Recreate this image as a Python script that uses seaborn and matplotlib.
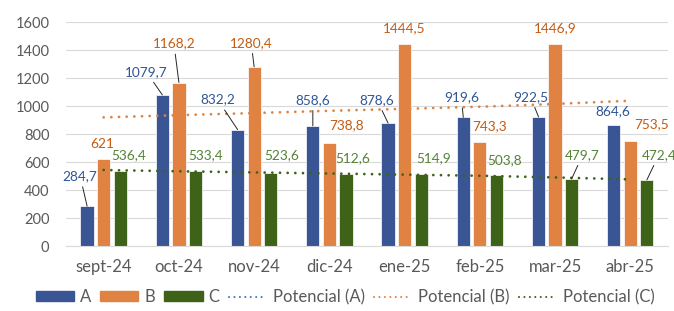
import pandas as pd
import numpy as np
import matplotlib
matplotlib.use('Agg')
import matplotlib.pyplot as plt
import seaborn as sns
from matplotlib.patches import Patch
from matplotlib.lines import Line2D

meses = ['sept-24', 'oct-24', 'nov-24', 'dic-24', 'ene-25', 'feb-25', 'mar-25', 'abr-25']
serie_a = [284.7, 1079.7, 832.2, 858.6, 878.6, 919.6, 922.5, 864.6]
serie_b = [621, 1168.2, 1280.4, 738.8, 1444.5, 743.3, 1446.9, 753.5]
serie_c = [536.4, 533.4, 523.6, 512.6, 514.9, 503.8, 479.7, 472.4]
# lineas de tendencia
potencial_b = [919, 935, 950, 966, 980, 995, 1015, 1038]
potencial_c = [543, 534, 526, 518, 510, 502, 490, 476]
series = ['A', 'B', 'C']

colores = ['#3A5593', '#E08242', '#3F6219']
colores_texto = ['#2F5597', '#C55A11', '#548235']

datos = pd.DataFrame({
    'mes': meses * 3,
    'valor': serie_a + serie_b + serie_c,
    'serie': ['A'] * 8 + ['B'] * 8 + ['C'] * 8,
})

sns.set_style('white')
plt.rcParams['font.family'] = ['Lato', 'DejaVu Sans']

fig = plt.figure(figsize=(6.74, 3.11), dpi=100)
ax = fig.add_axes([0.098, 0.209, 0.893, 0.72])

sns.barplot(data=datos, x='mes', y='valor', hue='serie', palette=colores,
            width=0.66, gap=0.2, saturation=1, edgecolor='white', linewidth=0.5,
            legend=False, ax=ax, zorder=2)

punteado = dict(linestyle=(0, (0.01, 2.75)), lw=2.0, dash_capstyle='round')
ax.plot(range(len(meses)), potencial_b, color='#E08242', zorder=3, **punteado)
ax.plot(range(len(meses)), potencial_c, color='#3F6219', zorder=3, **punteado)

# posicion de etiquetas (dx, dy en pixeles desde el tope de la barra)
desplaz = [
    [(-7, 30), (-16, 23), (-20, 30), (0, 26), (-11, 23), (-2, 20), (-8, 20), (-1, 14)],
    [(-1, 15), (-5, 39), (-3, 24), (17, 17), (0, 16), (10, 16), (0, 15), (21, 16)],
    [(8, 16), (10, 16), (11, 18), (7, 16), (12, 16), (8, 15), (11, 24), (12, 25)],
]
for i, cont in enumerate(ax.containers):
    for j, barra in enumerate(cont):
        x = barra.get_x() + barra.get_width() / 2
        y = barra.get_height()
        txt = f'{y:g}'.replace('.', ',')
        dx, dy = desplaz[i][j]
        flecha = None
        if dy >= 19:
            flecha = dict(arrowstyle='-', color='#262626', lw=0.7, shrinkA=1, shrinkB=0)
        ax.annotate(txt, xy=(x, y), xytext=(dx, dy), textcoords='offset pixels',
                    ha='center', va='center', fontsize=9.8, color=colores_texto[i],
                    arrowprops=flecha, zorder=4)

ax.set_ylim(0, 1600)
ax.set_xlim(-0.5, 7.5)
ax.set_yticks(range(0, 1601, 200))
ax.yaxis.grid(True, color='#D9D9D9', lw=0.8, zorder=0)
ax.set_axisbelow(True)
sns.despine(ax=ax, left=True, top=True, right=True)
ax.spines['bottom'].set_color('#D9D9D9')
ax.tick_params(axis='y', length=0, pad=12, labelsize=10.5, labelcolor='#595959')
ax.tick_params(axis='x', length=0, pad=9, labelsize=12, labelcolor='#595959')
ax.set_xlabel('')
ax.set_ylabel('')

punteado_ley = dict(linestyle=(0, (0.01, 2.6)), lw=1.5, dash_capstyle='round')
manijas = [Patch(color=colores[0], label='A'),
           Patch(color=colores[1], label='B'),
           Patch(color=colores[2], label='C'),
           Line2D([], [], color='#4472C4', label='Potencial (A)', **punteado_ley),
           Line2D([], [], color='#E08242', label='Potencial (B)', **punteado_ley),
           Line2D([], [], color='#3F6219', label='Potencial (C)', **punteado_ley)]
leg = fig.legend(handles=manijas, loc='center', bbox_to_anchor=(0.512, 0.045), ncol=6,
                 frameon=False, fontsize=12, handlelength=2.3, handleheight=0.5,
                 columnspacing=0.55, handletextpad=0.35)
for t in leg.get_texts():
    t.set_color('#595959')

fig.savefig('out.png', dpi=100)
